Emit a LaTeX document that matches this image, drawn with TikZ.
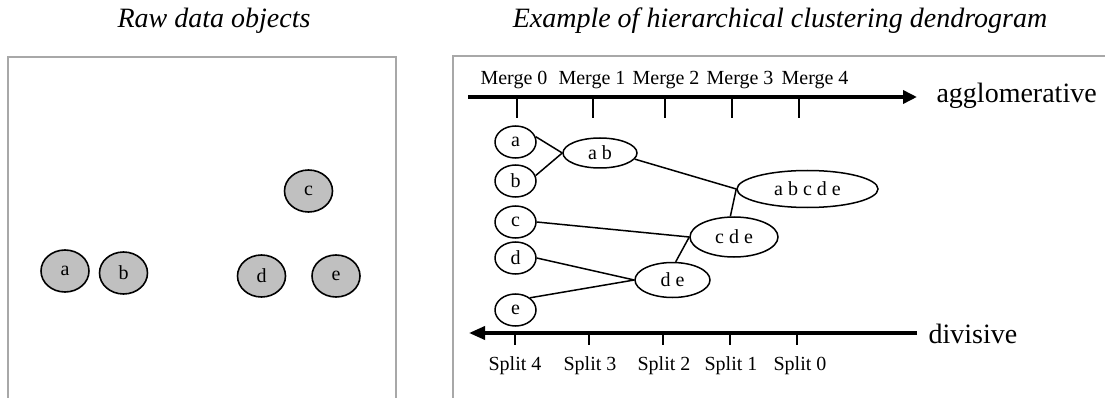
\documentclass[tikz,border=0pt]{standalone}
\usepackage{fontspec}
\setmainfont{Liberation Serif}
\usetikzlibrary{shapes.geometric,arrows.meta}
\definecolor{framegray}{HTML}{A8A8A8}
\definecolor{objgray}{HTML}{C0C0C0}

\begin{document}
\begin{tikzpicture}[
        x=1pt,
        y=-1pt,
        every node/.style={font=\fontsize{20}{24}\selectfont},
        title/.style={
            font=\fontsize{28}{32}\selectfont\itshape,
            anchor=base
        },
        rawobj/.style={
            draw,
            ellipse,
            fill=objgray,
            line width=1.6pt,
            minimum width=48pt,
            minimum height=42pt,
            inner sep=0pt
        },
        leaf/.style={
            draw,
            ellipse,
            line width=1.5pt,
            minimum width=41pt,
            minimum height=32pt,
            inner sep=0pt
        },
        cluster/.style={
            draw,
            ellipse,
            line width=1.5pt,
            inner sep=0pt
        },
        link/.style={line width=1.5pt},
        axisline/.style={line width=3.6pt},
        tickmark/.style={line width=1.5pt},
        steplabel/.style={anchor=base},
        dirlabel/.style={
            font=\fontsize{28}{32}\selectfont,
            anchor=base west
        }
    ]
        \useasboundingbox (0,0) rectangle (1105,398);

        % Frames (both run past the page edge)
        \draw[framegray, line width=1.3pt] (8,398) -- (8,57) -- (396,57) -- (396,398);
        \draw[framegray, line width=1.3pt] (453,398) -- (453,56) -- (1105,56);

        \node[title] (rawtitle) at (214,28) {Raw data objects};
        \node[title] (dendtitle) at (780,28) {Example of hierarchical clustering dendrogram};

        % Left panel: the five objects
        \node[rawobj] (rawa) at (65,271) {a};
        \node[rawobj] (rawb) at (123.5,273) {b};
        \node[rawobj] (rawc) at (308.5,191) {c};
        \node[rawobj] (rawd) at (261.5,276) {d};
        \node[rawobj] (rawe) at (336,276) {e};

        % Right panel: leaves in a column at x=515.5
        \foreach \n/\y in {a/142,b/181,c/222,d/258,e/310}
            \node[leaf] (\n) at (515.5,\y) {\n};

        % Merged clusters
        \node[cluster, minimum width=74pt, minimum height=30pt]
            (ab) at (600,153) {a b};
        \node[cluster, minimum width=75pt, minimum height=35pt]
            (de) at (672.5,280) {d e};
        \node[cluster, minimum width=88pt, minimum height=40pt]
            (cde) at (734,237) {c d e};
        \node[cluster, minimum width=141pt, minimum height=37pt]
            (abcde) at (807.5,189) {a b c d e};

        \draw[link] (a.15) -- (ab.west);
        \draw[link] (b.15) -- (ab.west);
        \draw[link] (c.east) -- (cde.west);
        \draw[link] (d.east) -- (de.west);
        \draw[link] (e.40) -- (de.west);
        \draw[link] (de.80) -- (cde.west);
        \draw[link] (ab.-10) -- (abcde.west);
        \draw[link] (cde.100) -- (abcde.west);

        % Top axis: agglomerative
        \coordinate (aggstart) at (468,97);
        \coordinate (aggend) at (917,97);
        \draw[axisline, -{Triangle[length=14pt,width=13pt]}] (aggstart) -- (aggend);
        \node[dirlabel] (agg) at (933,103) {agglomerative};

        \foreach \k/\x/\lx in {0/517/514,1/593/592,2/665/666,3/732/740,4/799/815} {
            \draw[tickmark] (\x,97) -- (\x,118);
            \node[steplabel] (merge\k) at (\lx,85) {Merge \k};
        }

        % Bottom axis: divisive
        \coordinate (divstart) at (917,333);
        \coordinate (divend) at (469,333);
        \draw[axisline, -{Triangle[length=16pt,width=13pt]}] (divstart) -- (divend);
        \node[dirlabel] (div) at (925,343) {divisive};

        \foreach \k/\x/\lx in {4/515/515,3/589/590,2/663/664,1/730/731,0/797/800} {
            \draw[tickmark] (\x,333) -- (\x,345);
            \node[steplabel] (split\k) at (\lx,370) {Split \k};
        }

    \end{tikzpicture}
\end{document}
